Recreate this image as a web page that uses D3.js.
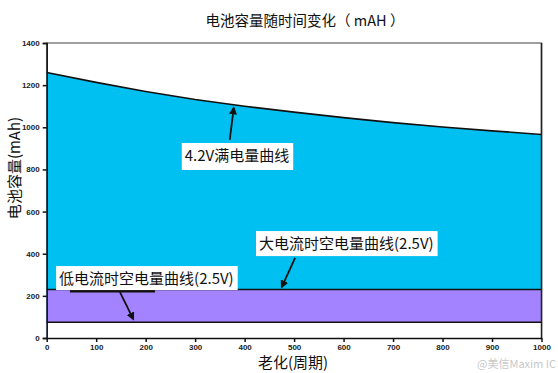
<!DOCTYPE html>
<html lang="zh">
<head>
<meta charset="UTF-8">
<title>电池容量随时间变化</title>
<script src="https://d3js.org/d3.v7.min.js"></script>
<style>
  body { margin: 0; background: #fff; }
  svg { display: block; }
  .tick text { font-family: 'Liberation Sans', Arial, sans-serif; font-weight: bold; font-size: 8px; fill: #222; }
  .cn { font-family: 'Noto Sans CJK SC', sans-serif; fill: #111; }
</style>
</head>
<body>
<svg id="chart" width="558" height="373"></svg>
<script>
// cycles (x) and capacities (mAh)
const cycles = [0, 100, 200, 300, 400, 500, 600, 700, 800, 900, 1000];
const fullCharge = [1260, 1213, 1170, 1132, 1100, 1072, 1046, 1022, 1001, 983, 966];
const highCurrentEmpty = [230, 230, 230, 230, 230, 230, 230, 230, 230, 230, 230];
const lowCurrentEmpty = [75, 75, 75, 75, 75, 75, 75, 75, 75, 75, 75];
const xTicks = [0, 100, 200, 300, 400, 500, 600, 700, 800, 900, 1000];
const yTicks = [0, 200, 400, 600, 800, 1000, 1200, 1400];

// callouts: label position, arrow from (fx,fy) to (tx,ty), all in data units
const callouts = [
  { text: '4.2V满电量曲线', bx: 273, by: 840, fx: 370, fy: 940, tx: 378, ty: 1092, pad: 5 },
  { text: '大电流时空电量曲线(2.5V)', bx: 423, by: 422, fx: 502, fy: 380, tx: 475, ty: 242, pad: 3 },
  { text: '低电流时空电量曲线(2.5V)', bx: 19, by: 256, fx: 148, fy: 218, tx: 175, ty: 90, pad: 2 }
];

const svg = d3.select('#chart');
const mLeft = 46.7, mRight = 541.5, mTop = 43, mBottom = 338;

const x = d3.scaleLinear().domain([0, 1000]).range([mLeft, mRight]);
const y = d3.scaleLinear().domain([0, 1400]).range([mBottom, mTop]);

svg.append('text')
  .attr('class', 'cn')
  .attr('x', 305).attr('y', 26)
  .attr('text-anchor', 'middle')
  .style('font-size', '14.5px')
  .text('电池容量随时间变化（ mAH ）');

// plot frame
svg.append('rect')
  .attr('x', mLeft).attr('y', mTop)
  .attr('width', mRight - mLeft).attr('height', mBottom - mTop)
  .attr('fill', '#fff')
  .attr('stroke', '#808080').attr('stroke-width', 1.5);

const series = [
  { vals: fullCharge, color: '#00c0f2' },
  { vals: highCurrentEmpty, color: '#a383ff' },
  { vals: lowCurrentEmpty, color: '#ffffff' }
];

const area = vals => d3.area()
  .x((d, i) => x(cycles[i]))
  .y0(y(0))
  .y1(d => y(d))(vals);
const line = vals => d3.line()
  .x((d, i) => x(cycles[i]))
  .y(d => y(d))(vals);

series.forEach(s => {
  svg.append('path').attr('d', area(s.vals)).attr('fill', s.color);
});
series.forEach(s => {
  svg.append('path').attr('d', line(s.vals))
    .attr('fill', 'none').attr('stroke', '#111').attr('stroke-width', 1.6);
});

// right border over the areas
svg.append('line')
  .attr('x1', mRight).attr('x2', mRight).attr('y1', mTop).attr('y2', mBottom)
  .attr('stroke', '#222').attr('stroke-width', 1.5);

svg.append('g')
  .attr('class', 'axis')
  .attr('transform', `translate(${mLeft},0)`)
  .call(d3.axisLeft(y).tickValues(yTicks).tickFormat(d3.format('d')).tickSize(4).tickPadding(3))
  .call(g => g.selectAll('line, path').attr('stroke', '#111').attr('stroke-width', 1.5));

svg.append('g')
  .attr('class', 'axis')
  .attr('transform', `translate(0,${mBottom})`)
  .call(d3.axisBottom(x).tickValues(xTicks).tickFormat(d3.format('d')).tickSize(4).tickPadding(2).tickSizeOuter(0))
  .call(g => g.selectAll('line, path').attr('stroke', '#111').attr('stroke-width', 1.5));

svg.append('text')
  .attr('class', 'cn')
  .attr('transform', 'translate(15,168) rotate(-90)')
  .attr('text-anchor', 'middle')
  .attr('dy', '0.35em')
  .style('font-size', '15px')
  .text('电池容量(mAh)');

svg.append('text')
  .attr('class', 'cn')
  .attr('x', 293).attr('y', 368)
  .attr('text-anchor', 'middle')
  .style('font-size', '15px')
  .text('老化(周期)');

svg.append('defs').append('marker')
  .attr('id', 'arrow')
  .attr('viewBox', '0 0 10 10')
  .attr('refX', 8).attr('refY', 5)
  .attr('markerWidth', 4.5).attr('markerHeight', 4.5)
  .attr('orient', 'auto')
  .append('path').attr('d', 'M0,0 L10,5 L0,10 z').attr('fill', '#111');

// leader stub under the low-current label
svg.append('line')
  .attr('x1', x(47)).attr('x2', x(219))
  .attr('y1', y(222)).attr('y2', y(222))
  .attr('stroke', '#111').attr('stroke-width', 2.4);

callouts.forEach(c => {
  svg.append('line')
    .attr('x1', x(c.fx)).attr('y1', y(c.fy))
    .attr('x2', x(c.tx)).attr('y2', y(c.ty))
    .attr('stroke', '#111').attr('stroke-width', 1.8)
    .attr('marker-end', 'url(#arrow)');
  const g = svg.append('g');
  const t = g.append('text')
    .attr('class', 'cn')
    .attr('x', x(c.bx) + 3).attr('y', y(c.by))
    .style('font-size', '15px')
    .text(c.text);
  const bb = t.node().getBBox();
  g.insert('rect', 'text')
    .attr('x', bb.x - 3).attr('y', bb.y - 1)
    .attr('width', bb.width + 7).attr('height', bb.height + 1 + c.pad)
    .attr('fill', '#fff');
});

// faint watermark
svg.append('text')
  .attr('x', 556).attr('y', 368)
  .attr('text-anchor', 'end')
  .style('font-family', "'Noto Sans CJK SC', sans-serif")
  .style('font-size', '11px')
  .attr('fill', '#c8c8c8')
  .text('@美信Maxim IC');
</script>
</body>
</html>
